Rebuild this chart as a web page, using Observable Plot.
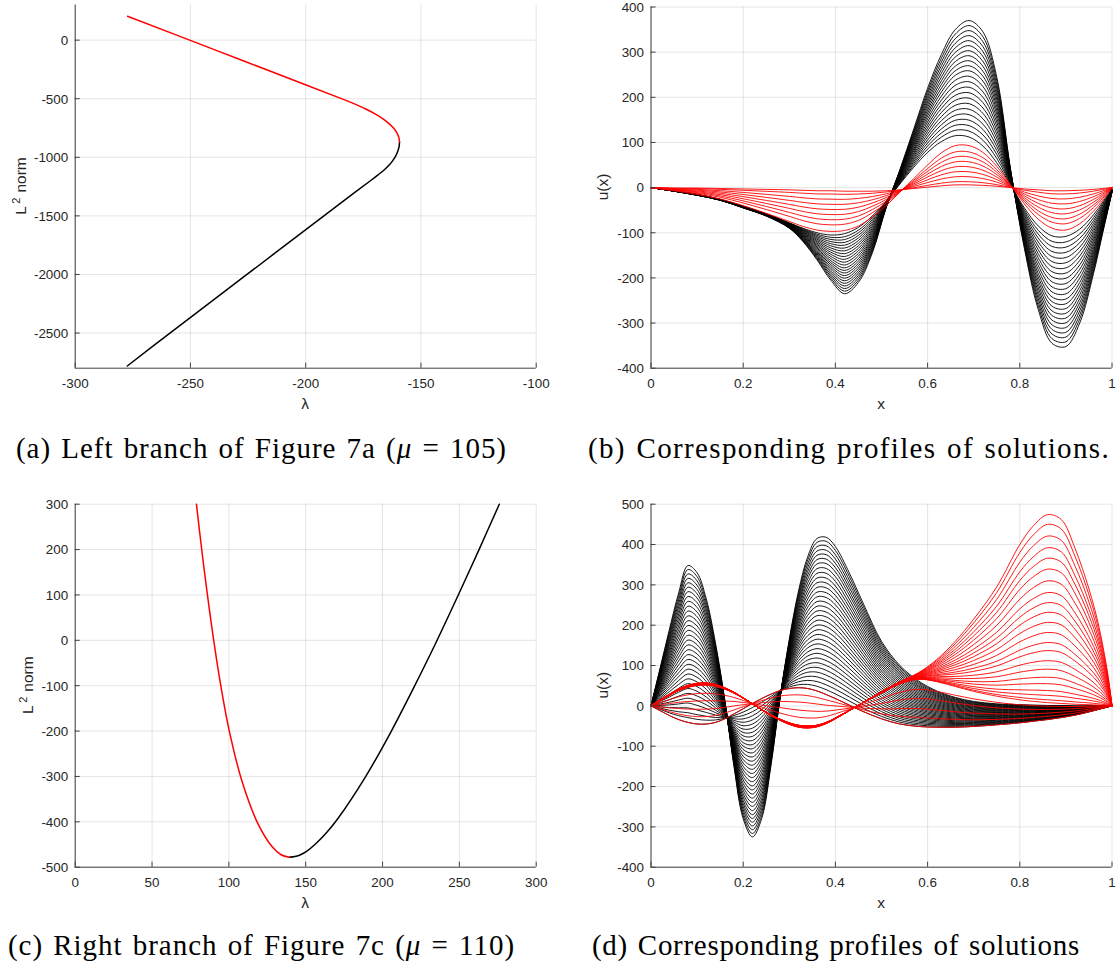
<!DOCTYPE html>
<html>
<head>
<meta charset="utf-8">
<script src="https://cdn.jsdelivr.net/npm/d3@7"></script>
<script src="https://cdn.jsdelivr.net/npm/@observablehq/plot@0.6"></script>
<style>
html,body{margin:0;padding:0;background:#fff;}
#root{position:relative;width:1120px;height:965px;overflow:hidden;background:#fff;}
.panel{position:absolute;}
#captions{position:absolute;left:0;top:0;pointer-events:none;}
</style>
</head>
<body>
<div id="root"></div>
<script>
// ================= DATA =================
// (a) Left branch, mu = 105 : [lambda, L2 norm]
const aXDomain = [-300, -100];
const aYDomain = [-2800, 300];
const aXTicks = [-300, -250, -200, -150, -100];
const aYTicks = [-2500, -2000, -1500, -1000, -500, 0];
const aRed = [[-277.3, 204], [-239.4, -83], [-201.5, -370], [-183.1, -510], [-178.1, -550], [-173.7, -590],
  [-169.9, -630], [-166.6, -670], [-164.0, -710], [-161.9, -750], [-160.5, -790], [-159.6, -830], [-159.3, -870]];
const aBlack = [[-159.3, -870], [-159.5, -910], [-160.1, -950], [-161.0, -990], [-162.3, -1030], [-164.0, -1070],
  [-166.1, -1110], [-168.6, -1150], [-171.9, -1200], [-178.7, -1300], [-192.1, -1500], [-225.5, -2000],
  [-258.9, -2500], [-277.4, -2781]];

// (b) profiles for (a)
const bXTicks = [0, 0.2, 0.4, 0.6, 0.8, 1];
const bYTicks = [-400, -300, -200, -100, 0, 100, 200, 300, 400];
const bX = [0, 0.05, 0.1, 0.15, 0.2, 0.25, 0.3, 0.33, 0.36, 0.39, 0.42, 0.45, 0.48, 0.51, 0.54, 0.57, 0.6, 0.63, 0.66, 0.69, 0.72, 0.75, 0.78, 0.81, 0.84, 0.87, 0.9, 0.93, 0.96, 0.98, 1];
const bBlackOuter = [0, -8, -17, -28, -45, -63, -90, -120, -160, -205, -235, -210, -145, -45, 40, 130, 220, 295, 350, 370, 345, 245, 40, -135, -270, -345, -352, -300, -190, -100, -10];
const bBlackInner = [0, -7, -15, -26, -41, -58, -78, -90, -100, -105, -102, -88, -63, -30, 8, 45, 78, 102, 115, 112, 92, 55, 6, -45, -85, -107, -108, -92, -60, -32, -3];
const bRedOuter = [0, -7, -15, -25, -40, -57, -75, -86, -94, -97, -95, -85, -65, -40, -10, 20, 50, 77, 93, 93, 78, 47, 6, -36, -70, -90, -94, -80, -52, -28, 0];
const bRedInner = [0, -1, -1, -2, -3, -4, -5, -6, -7, -7, -8, -8, -8, -7, -5, -2, 1, 4, 6, 6, 5, 3, 0, -3, -5, -7, -7, -6, -4, -2, 0];
// peak heights (near x = 0.68) of each drawn profile
const bBlackPeaks = [370, 359, 348, 337, 326, 315, 304, 293, 282, 271, 260, 248, 236, 224, 212, 200, 188, 176, 164, 152, 140, 128, 115];
const bRedPeaks = [93, 79, 68, 57, 46, 35, 24, 13, 6];

// (c) Right branch, mu = 110
const cXDomain = [0, 300];
const cYDomain = [-500, 300];
const cXTicks = [0, 50, 100, 150, 200, 250, 300];
const cYTicks = [-500, -400, -300, -200, -100, 0, 100, 200, 300];
const cRed = [[78.9, 300], [82.4, 198], [85.9, 104], [90.3, -4], [95.0, -105], [100.3, -200], [108.4, -309],
  [118.9, -404], [128.2, -455], [134, -472.5], [139.3, -478]];
const cBlack = [[139.3, -478], [143, -476.5], [147, -472], [151, -464], [156, -450], [163.5, -424], [171.1, -392],
  [188.5, -303], [204.8, -206], [219.9, -107], [234.5, -7], [249.6, 102], [262.8, 200], [276, 300]];

// (d) profiles for (c)
const dXTicks = [0, 0.2, 0.4, 0.6, 0.8, 1];
const dYTicks = [-400, -300, -200, -100, 0, 100, 200, 300, 400, 500];
const dX = [0, 0.02, 0.04, 0.06, 0.08, 0.1, 0.12, 0.14, 0.16, 0.18, 0.2, 0.22, 0.24, 0.26, 0.28, 0.3, 0.32, 0.34, 0.36, 0.38, 0.4, 0.43, 0.46, 0.5, 0.54, 0.58, 0.62, 0.66, 0.7, 0.75, 0.8, 0.83, 0.86, 0.89, 0.92, 0.95, 0.97, 0.99, 1];
const dBlackOuter = [0, 95, 190, 280, 348, 330, 265, 155, 15, -150, -280, -325, -280, -150, 20, 165, 285, 370, 415, 418, 395, 330, 255, 160, 100, 62, 37, 21, 11, 5, 3, 2, 1, 1, 0, 0, 0, 0, 0];
const dJunction = [0, -12, -24, -34, -41, -45, -45, -41, -32, -20, -7, 6, 18, 29, 38, 43, 45, 43, 37, 28, 18, 2, -14, -32, -45, -51, -53, -53, -51, -47, -42, -38, -34, -29, -23, -15, -9, -3, 0];
const dRedMid = [0, 13, 26, 38, 46, 51, 52, 49, 42, 32, 19, 5, -9, -22, -33, -42, -48, -50, -48, -41, -30, -11, 8, 32, 55, 66, 60, 48, 36, 24, 15, 11, 8, 6, 4, 3, 2, 1, 0];
const dRedOuter = [0, 15, 29, 42, 51, 56, 57, 53, 45, 34, 20, 5, -10, -24, -36, -46, -53, -55, -52, -44, -32, -12, 8, 35, 60, 82, 115, 160, 215, 295, 400, 447, 474, 462, 390, 290, 205, 85, 0];
// black: height of first hump (x = 0.08); red: height of right hump (x = 0.86)
const dBlackPeaks = [348, 338, 327, 316, 305, 294, 283, 271, 259, 247, 235, 223, 211, 199, 187, 175, 163, 151, 139, 127, 115, 103, 91, 79, 67, 55, 43, 31, 19, 7, -5, -17, -29, -41];
const dRedPeaks = [474, 450, 421, 392, 366, 339, 310, 281, 256, 232, 207, 182, 157, 137, 112, 91, 71, 55, 38, 26, 15, 8, -1, -9, -18, -26, -34];

// ================= HELPERS =================
const axisColor = "#404040";
const textColor = "#262626";
const sans = "'Liberation Sans', Arial, Helvetica, sans-serif";

function blend(lo, hi, w) { return lo.map((v, i) => v + (hi[i] - v) * w); }
function familyRows(xs, curves, prefix) {
  return curves.flatMap((ys, k) => ys.map((y, i) => ({id: prefix + k, x: xs[i], y})));
}
function maxOf(a) { return Math.max(...a); }

// (b) families
const bBlackCurves = bBlackPeaks.map(p => blend(bBlackInner, bBlackOuter, (p - maxOf(bBlackInner)) / (maxOf(bBlackOuter) - maxOf(bBlackInner))));
const bRedCurves = bRedPeaks.map(p => blend(bRedInner, bRedOuter, (p - maxOf(bRedInner)) / (maxOf(bRedOuter) - maxOf(bRedInner))));
// (d) families
const iB = dX.indexOf(0.08), iR = dX.indexOf(0.86);
const dBlackCurves = dBlackPeaks.map(p => blend(dJunction, dBlackOuter, (p - dJunction[iB]) / (dBlackOuter[iB] - dJunction[iB])));
const dRedCurves = dRedPeaks.map(p => p >= dRedMid[iR]
  ? blend(dRedMid, dRedOuter, (p - dRedMid[iR]) / (dRedOuter[iR] - dRedMid[iR]))
  : blend(dJunction, dRedMid, (p - dJunction[iR]) / (dRedMid[iR] - dJunction[iR])));

function fmt(d) { return String(d); }

function makePanel(cfg) {
  const {left, top, width, height, ml, mr, mt, mb, xDomain, yDomain, xTicks, yTicks, marks, xLabel, yLabel} = cfg;
  const pw = width - ml - mr, ph = height - mt - mb;
  const svg = Plot.plot({
    width, height, marginLeft: ml, marginRight: mr, marginTop: mt, marginBottom: mb,
    x: {domain: xDomain}, y: {domain: yDomain},
    style: {background: "transparent", fontFamily: sans, fontSize: "13.4px", color: textColor, overflow: "visible"},
    marks: [
      Plot.gridX(xTicks, {stroke: "#262626", strokeOpacity: 0.12, strokeWidth: 1}),
      Plot.gridY(yTicks, {stroke: "#262626", strokeOpacity: 0.12, strokeWidth: 1}),
      ...marks,
      Plot.ruleX([xDomain[0]], {stroke: axisColor, strokeWidth: 1}),
      Plot.ruleY([yDomain[0]], {stroke: axisColor, strokeWidth: 1}),
      Plot.tickX(xTicks, {x: d => d, stroke: axisColor, insetTop: ph - 5}),
      Plot.tickY(yTicks, {y: d => d, stroke: axisColor, insetRight: pw - 5}),
      Plot.axisX(xTicks, {tickSize: 0, tickPadding: 10, tickFormat: fmt, label: null, fill: textColor}),
      Plot.axisY(yTicks, {tickSize: 0, tickPadding: 7, tickFormat: fmt, label: null, fill: textColor, dy: 0.6})
    ]
  });
  const s = d3.select(svg);
  s.append("text").attr("x", xLabel.x).attr("y", xLabel.y).attr("text-anchor", "middle")
    .attr("font-family", sans).attr("font-size", 15.5).attr("fill", textColor).text(xLabel.text);
  const t = s.append("text").attr("transform", `translate(${yLabel.x},${yLabel.y}) rotate(-90)`)
    .attr("text-anchor", "middle").attr("font-family", sans).attr("font-size", 15.5).attr("fill", textColor);
  if (yLabel.sup) {
    t.append("tspan").text(yLabel.text);
    t.append("tspan").attr("font-size", 11).attr("dy", -6.5).attr("dx", 2.5).text(yLabel.sup);
    t.append("tspan").attr("dy", 6.5).attr("dx", 5).text(yLabel.rest);
  } else {
    t.text(yLabel.text);
  }
  const div = document.createElement("div");
  div.className = "panel";
  div.style.left = left + "px";
  div.style.top = top + "px";
  div.appendChild(svg);
  document.getElementById("root").appendChild(div);
}

const lineOpts = {curve: "catmull-rom"};

// (a)
makePanel({
  left: 0, top: 0, width: 560, height: 420, ml: 74.7, mr: 24.3, mt: 4.5, mb: 52.3,
  xDomain: aXDomain, yDomain: aYDomain, xTicks: aXTicks, yTicks: aYTicks,
  marks: [
    Plot.line(aBlack, {x: d => d[0], y: d => d[1], stroke: "#000", strokeWidth: 1.5, ...lineOpts}),
    Plot.line(aRed, {x: d => d[0], y: d => d[1], stroke: "#ff0000", strokeWidth: 1.5, ...lineOpts})
  ],
  xLabel: {text: "λ", x: 305.2, y: 409},
  yLabel: {text: "L", sup: "2", rest: "norm", x: 26, y: 186}
});

// (b)
makePanel({
  left: 560, top: 0, width: 560, height: 420, ml: 90.5, mr: 8.5, mt: 6.5, mb: 52.3,
  xDomain: [0, 1], yDomain: [-400, 400], xTicks: bXTicks, yTicks: bYTicks,
  marks: [
    Plot.line(familyRows(bX, bBlackCurves, "k"), {x: "x", y: "y", z: "id", stroke: "#000", strokeWidth: 0.9, ...lineOpts}),
    Plot.line(familyRows(bX, bRedCurves, "r"), {x: "x", y: "y", z: "id", stroke: "#ff0000", strokeWidth: 0.9, ...lineOpts})
  ],
  xLabel: {text: "x", x: 321, y: 409},
  yLabel: {text: "u(x)", x: 48, y: 187}
});

// (c)
makePanel({
  left: 0, top: 480, width: 560, height: 440, ml: 74.7, mr: 24.3, mt: 23.7, mb: 53.3,
  xDomain: cXDomain, yDomain: cYDomain, xTicks: cXTicks, yTicks: cYTicks,
  marks: [
    Plot.line(cBlack, {x: d => d[0], y: d => d[1], stroke: "#000", strokeWidth: 1.5, ...lineOpts}),
    Plot.line(cRed, {x: d => d[0], y: d => d[1], stroke: "#ff0000", strokeWidth: 1.5, ...lineOpts})
  ],
  xLabel: {text: "λ", x: 305.2, y: 428},
  yLabel: {text: "L", sup: "2", rest: "norm", x: 33, y: 205.2}
});

// (d)
makePanel({
  left: 560, top: 480, width: 560, height: 440, ml: 90.5, mr: 8.5, mt: 23.7, mb: 53.3,
  xDomain: [0, 1], yDomain: [-400, 500], xTicks: dXTicks, yTicks: dYTicks,
  marks: [
    Plot.line(familyRows(dX, dBlackCurves, "k"), {x: "x", y: "y", z: "id", stroke: "#000", strokeWidth: 0.9, ...lineOpts}),
    Plot.line(familyRows(dX, dRedCurves, "r"), {x: "x", y: "y", z: "id", stroke: "#ff0000", strokeWidth: 0.9, ...lineOpts})
  ],
  xLabel: {text: "x", x: 321, y: 428},
  yLabel: {text: "u(x)", x: 48, y: 205.2}
});

// ================= CAPTIONS =================
const captions = [
  {parts: [["(a) Left branch of Figure 7a (", false], ["μ", true], [" = 105)", false]], x: 16, right: 507, y: 458},
  {parts: [["(b) Corresponding profiles of solutions.", false]], x: 588, right: 1110, y: 458},
  {parts: [["(c) Right branch of Figure 7c (", false], ["μ", true], [" = 110)", false]], x: 8, right: 515, y: 955},
  {parts: [["(d) Corresponding profiles of solutions", false]], x: 592, right: 1080, y: 955}
];
const capSvg = d3.create("svg").attr("id", "captions").attr("width", 1120).attr("height", 965);
document.getElementById("root").appendChild(capSvg.node());
for (const c of captions) {
  const t = capSvg.append("text").attr("x", c.x).attr("y", c.y)
    .attr("font-family", "'Liberation Serif', 'Times New Roman', serif").attr("font-size", 29)
    .attr("word-spacing", 2).attr("fill", "#000");
  let n = 0;
  for (const [str, it] of c.parts) {
    const sp = t.append("tspan").text(str);
    if (it) sp.attr("font-style", "italic");
    n += str.length;
  }
  const len = t.node().getComputedTextLength();
  t.attr("letter-spacing", Math.max(0, ((c.right - c.x) - len) / n));
}
</script>
</body>
</html>
